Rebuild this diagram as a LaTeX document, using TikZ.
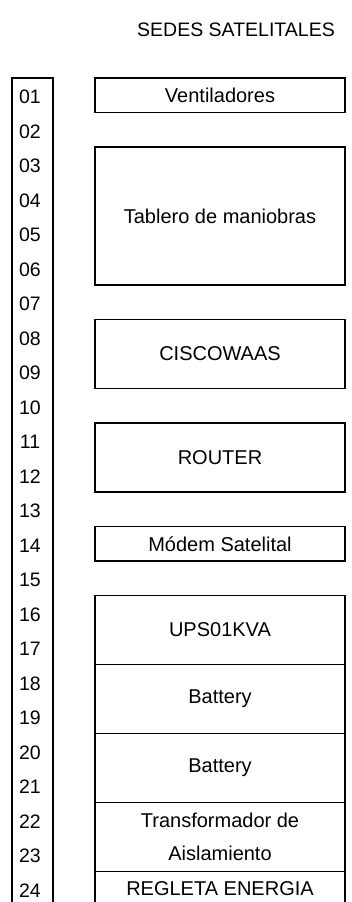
\documentclass[tikz,border=0pt]{standalone}
\usepackage{fontspec}
\setmainfont{Liberation Sans}
\usetikzlibrary{positioning}

\begin{document}
\begin{tikzpicture}[
  x=1pt, y=-1pt,
  node distance=34.5pt,
  equip/.style={draw, line width=1.3pt, outer sep=0pt, inner sep=0pt, align=center,
    minimum width=250pt, minimum height=34.5pt, font=\fontsize{20}{33}\selectfont},
  tall/.style={equip, minimum height=69pt},
  num/.style={font=\fontsize{19.5}{21}\selectfont, inner sep=0pt},
  title/.style={font=\fontsize{19.5}{24}\selectfont}
]
\useasboundingbox (0,0) rectangle (351,902);

\node[title] (title) at (236,30) {SEDES SATELITALES};

% rack units on the left
\node[draw, line width=1.2pt, outer sep=0pt, anchor=north west,
  minimum width=41pt, minimum height=900pt] (slots) at (12,78) {};
\foreach \i in {1,...,24}
  \node[num] (u\i) at (30,{97+(\i-1)*34.5}) {\ifnum\i<10 0\fi\i};

% equipment
\node[equip, anchor=north west] (vent) at (95,78) {Ventiladores};
\node[equip, minimum height=138pt, below=of vent] (tablero) {Tablero de maniobras};
\node[tall, below=of tablero] (cisco) {CISCOWAAS};
\node[tall, below=of cisco] (router) {ROUTER};
\node[equip, below=of router] (modem) {Módem Satelital};
\node[tall, below=of modem] (ups) {UPS01KVA};
\node[tall, below=0pt of ups] (bat1) {Battery};
\node[tall, below=0pt of bat1] (bat2) {Battery};
\node[tall, below=0pt of bat2] (trafo) {Transformador de\\Aislamiento};
\node[equip, below=0pt of trafo] (regleta) {REGLETA ENERGIA};

\end{tikzpicture}
\end{document}
